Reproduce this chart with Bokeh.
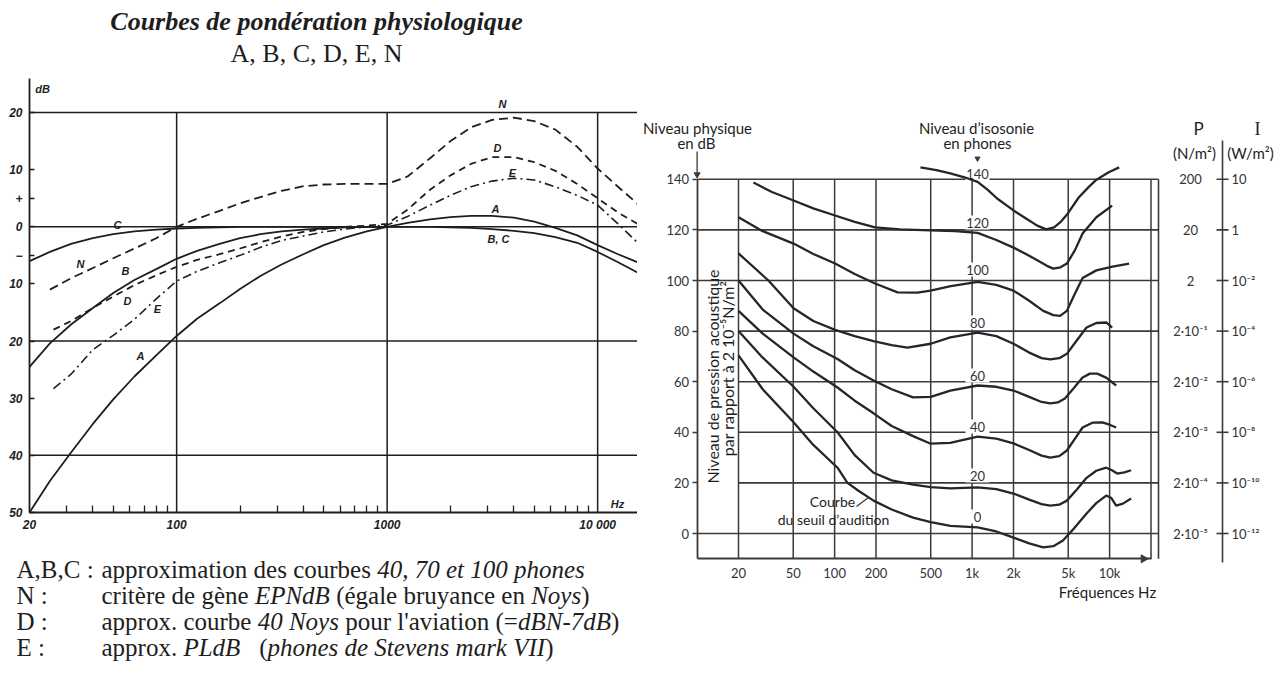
import numpy as np
from bokeh.plotting import figure
from bokeh.layouts import row
from bokeh.models import FixedTicker, Range1d
from bokeh.core.properties import value
from bokeh.embed import file_html
from bokeh.resources import INLINE

# ================= LEFT CHART DATA : weighting curves (Hz, dB) =================
freq_A = [20, 25, 31.5, 40, 50, 63, 80, 100, 125, 160, 200, 250, 315, 400, 500, 630, 800,
          1000, 1250, 1600, 2000, 2500, 3150, 4000, 5000, 6300, 8000, 10000, 12500, 15500]
curve_A = [-50, -44.5, -39.5, -34.5, -30.2, -26.2, -22.5, -19.1, -16.1, -13.4, -10.9, -8.6,
           -6.6, -4.8, -3.2, -1.9, -0.8, 0, 0.7, 1.3, 1.7, 1.9, 1.9, 1.6, 0.9, -0.2, -1.5,
           -3.2, -4.8, -6.2]
freq_B = [20, 25, 31.5, 40, 50, 63, 80, 100, 125, 160, 200, 250, 315, 400, 500, 630, 800,
          1000, 1250, 1600, 2000, 2500, 3150, 4000, 5000, 6300, 8000, 10000, 12500, 15500]
curve_B = [-24.5, -20.4, -17.1, -14.2, -11.6, -9.3, -7.4, -5.6, -4.2, -3.0, -2.0, -1.3, -0.8,
           -0.5, -0.3, -0.1, 0, 0, 0, 0, -0.1, -0.2, -0.4, -0.7, -1.1, -1.8, -2.8, -4.4, -6.2, -8.0]
freq_C = [20, 25, 31.5, 40, 50, 63, 80, 100, 125, 160, 200, 250, 315, 400, 500, 630, 800, 1000]
curve_C = [-6.0, -4.4, -3.0, -2.0, -1.3, -0.8, -0.5, -0.3, -0.2, -0.1, 0, 0, 0, 0, 0, 0, 0, 0]
freq_N = [25, 31.5, 40, 50, 63, 80, 100, 125, 160, 200, 250, 315, 400, 500, 630, 800, 1000,
          1250, 1600, 2000, 2500, 3150, 4000, 5000, 6300, 8000, 10000, 12500, 15500]
curve_N = [-11, -9, -7.2, -5.5, -3.8, -2, 0, 1.4, 2.8, 4.1, 5.2, 6.3, 7.1, 7.4, 7.5, 7.5, 7.5,
           8.8, 12, 15, 17.4, 18.7, 19.1, 18.5, 17, 14, 10.2, 7, 4]
freq_D = [26, 31.5, 40, 50, 63, 80, 100, 125, 160, 200, 250, 315, 400, 500, 630, 800, 1000,
          1250, 1600, 2000, 2500, 3150, 4000, 5000, 6300, 8000, 10000, 12500, 15500]
curve_D = [-18, -16.5, -14.2, -12.2, -10.2, -8.5, -7, -5.8, -4.8, -3.8, -2.7, -1.7, -0.9, -0.4,
           0, 0.2, 0.5, 3, 6.5, 9, 11, 12.2, 12.2, 11.3, 9.8, 7.5, 5, 2.5, 0.5]
freq_E = [26, 31.5, 40, 50, 63, 80, 100, 125, 160, 200, 250, 315, 400, 500, 630, 800, 1000,
          1250, 1600, 2000, 2500, 3150, 4000, 5000, 6300, 8000, 10000, 12500, 15500]
curve_E = [-28.3, -25.8, -21.5, -19, -16.2, -12.6, -9.5, -7.8, -6.3, -5, -3.6, -2.4, -1.6, -0.9,
           -0.4, 0, 0.3, 1.8, 3.8, 5.5, 7, 8, 8.5, 8.2, 7, 5.5, 3.8, 0.5, -2.8]

xticks_L = [20, 100, 1000, 10000]
xtick_labels_L = ["20", "100", "1000", "10 000"]
xminor_L = [30, 40, 50, 60, 70, 80, 90, 200, 300, 400, 500, 600, 700, 800, 900,
            2000, 3000, 4000, 5000, 6000, 7000, 8000, 9000]
yticks_L = [20, 10, 5, 0, -5, -10, -20, -30, -40, -50]
ytick_labels_L = ["20", "10", "+", "0", "\u2212", "10", "20", "30", "40", "50"]
hgrid_L = [20, 0, -20, -40]
vgrid_L = [100, 1000, 10000]

# ================= RIGHT CHART DATA : equal-loudness contours (Hz, dB) =================
phon_levels = [140, 120, 100, 80, 60, 40, 20, 0]
f_140 = [421, 550, 694, 880, 1097, 1300, 1520, 2000, 2500, 2977, 3460, 3950, 4450, 4970,
         5960, 7000, 7880, 9770, 11740]
L_140 = [144.7, 143.6, 142.3, 140.8, 139, 135.8, 132.4, 127.7, 124.3, 121.7, 120.2, 121,
         123.4, 126.5, 132.8, 136.8, 139.5, 142.7, 144.7]
f_120 = [25.7, 35, 50.3, 70, 100.8, 140, 197, 300, 498, 750, 1097, 1500, 2000, 2500, 2977,
         3500, 3890, 4400, 4890, 5600, 6360, 8010, 10440]
L_120 = [138.7, 135, 131.6, 128.5, 125.7, 123.2, 121, 120.2, 119.8, 119.5, 118.8, 116, 113,
         110.3, 108, 105.8, 104.7, 105.2, 106.7, 112, 118.6, 125, 129.6]
f_100 = [20, 30, 50.3, 70, 100.8, 140, 197, 287, 400, 498, 700, 1097, 1500, 2000, 2600, 3290,
         3900, 4360, 4890, 5500, 6360, 8010, 10500, 13860]
L_100 = [125, 119.5, 114.6, 110.5, 106.7, 102.6, 98.8, 95.3, 95.2, 96, 97.8, 99.5, 98.3, 96,
         92, 88, 86.3, 86, 88, 94, 101, 104, 105.5, 106.7]
f_80 = [20, 33, 50.3, 70, 100.8, 140, 192, 260, 339, 500, 694, 1097, 1500, 2000, 2600, 3200,
        3700, 4300, 4890, 5800, 6800, 8000, 9450, 10440]
L_80 = [110.7, 100, 89, 84, 80.5, 78, 76, 74.5, 73.5, 75, 77.5, 79.4, 78, 75, 71.5, 69.3,
        68.8, 69.3, 71, 76.5, 81.4, 83.2, 83.4, 81.4]
f_60 = [20, 30, 50.3, 70, 105, 140, 192, 260, 372, 500, 694, 1097, 1500, 2000, 2600, 3200,
        3700, 4200, 4730, 5500, 6360, 7200, 8140, 9500, 11160]
L_60 = [100, 88.5, 79, 74, 69, 64.5, 60.5, 57, 53.8, 54, 56.5, 58.5, 58, 56.5, 54, 52, 51.4,
        51.8, 53.4, 57.5, 61.7, 63.2, 63.2, 61.5, 58.5]
f_40 = [20, 30, 50.3, 70, 105, 140, 192, 260, 372, 500, 694, 1097, 1500, 2000, 2600, 3200,
        3700, 4300, 4890, 5600, 6360, 7500, 8840, 10000, 11160]
L_40 = [88, 79, 69.6, 64, 57.7, 52.5, 47.5, 42.5, 38.5, 35.5, 35.8, 38.3, 37.5, 35.6, 33,
        30.8, 30, 30.6, 32.8, 37.5, 41.9, 43.8, 43.9, 43, 41.9]
f_20 = [20, 30, 50.3, 70, 105, 140, 192, 260, 372, 500, 694, 1097, 1500, 2000, 2600, 3200,
        3700, 4300, 4890, 5800, 6800, 8000, 9450, 10400, 11350, 12800, 14330]
L_20 = [80, 69.5, 58, 49.5, 40, 31, 24, 21, 19.3, 18.3, 17.8, 18.2, 17.5, 15.8, 13.4, 11.6,
        11, 11.4, 13, 17.5, 22, 24.8, 26, 25, 23.7, 24.2, 25]
f_0 = [20, 30, 50.3, 70, 105, 124, 150, 192, 260, 372, 500, 694, 1097, 1500, 2000, 2600,
       3290, 3900, 4580, 5500, 6800, 8000, 9450, 10300, 11160, 12500, 14330]
L_0 = [70.4, 57, 44, 35, 26, 20, 16.8, 13, 9.5, 6.3, 4.5, 3, 2.4, 0.8, -1.6, -3.9, -5.5, -5,
       -2.8, 2, 7.9, 12, 15, 14, 11, 11.8, 13.8]

grid_freqs_R = [20, 50, 100, 200, 500, 1000, 2000, 5000, 10000, 20000]
xticks_R = [20, 50, 100, 200, 500, 1000, 2000, 5000, 10000]
xtick_labels_R = ["20", "50", "100", "200", "500", "1k", "2k", "5k", "10k"]
db_levels_R = [0, 20, 40, 60, 80, 100, 120, 140]
full_hlines_R = [140, 120, 100, 0]
part_hlines_R = [80, 60, 40, 20]
P_labels = ["2\u00b710\u207b\u2075", "2\u00b710\u207b\u2074", "2\u00b710\u207b\u00b3",
            "2\u00b710\u207b\u00b2", "2\u00b710\u207b\u00b9", "2", "20", "200"]
I_labels = ["10\u207b\u00b9\u00b2", "10\u207b\u00b9\u2070", "10\u207b\u2078", "10\u207b\u2076",
            "10\u207b\u2074", "10\u207b\u00b2", "1", "10"]

# ================= styling / layout =================
SERIF = "Liberation Serif"
SANS = "Lato"
INK = "#1e1e1e"
W_L, W_R, H = 637, 638, 662
F_END_L = 15500


def put(p, xs, ys, texts, font, size, style="normal", align="center",
        baseline="middle", angle=0.0, color=INK):
    p.text(x=list(xs), y=list(ys), text=list(texts), text_font=value(font),
           text_font_size=f"{size}px", text_font_style=style, text_align=align,
           text_baseline=baseline, angle=angle, text_color=color)


# ---------- left figure (picture geometry: 20 Hz at x=29, 210.5 px/decade; 0 dB at y=226.3, 5.714 px/dB)
def lx(px):
    return 10 ** (np.log10(20) + (px - 29) / 210.5)


def ly(py):
    return (226.3 - py) / 5.714


pL = figure(width=W_L, height=H, x_axis_type="log",
            x_range=Range1d(lx(0), lx(W_L)),
            y_range=Range1d(ly(H), ly(0)),
            toolbar_location=None, output_backend="svg", min_border=0)
pL.outline_line_color = None
pL.grid.visible = False
pL.background_fill_color = "white"

ax = pL.xaxis[0]
ax.fixed_location = -50
ax.bounds = (20, F_END_L)
ax.ticker = FixedTicker(ticks=xticks_L, minor_ticks=xminor_L)
ax.major_label_overrides = {t: s for t, s in zip(xticks_L, xtick_labels_L)}
ax.major_tick_in = 0
ax.major_tick_out = 0
ax.minor_tick_in = 7
ax.minor_tick_out = 0
ax.minor_tick_line_color = INK
ax.minor_tick_line_width = 1.3
ax.axis_line_color = INK
ax.axis_line_width = 1.8
ax.major_label_text_font = "Liberation Sans"
ax.major_label_text_font_style = "bold italic"
ax.major_label_text_font_size = "12px"
ax.major_label_text_color = INK
ax.major_label_standoff = 5

ay = pL.yaxis[0]
ay.fixed_location = 20
ay.bounds = (-50, 26)
ay.ticker = FixedTicker(ticks=yticks_L)
ay.major_label_overrides = {t: s for t, s in zip(yticks_L, ytick_labels_L)}
ay.major_tick_in = 5
ay.major_tick_out = 0
ay.major_tick_line_color = INK
ay.major_tick_line_width = 1.5
ay.minor_tick_in = 0
ay.minor_tick_out = 0
ay.axis_line_color = INK
ay.axis_line_width = 1.8
ay.major_label_text_font = "Liberation Sans"
ay.major_label_text_font_style = "bold italic"
ay.major_label_text_font_size = "12px"
ay.major_label_text_color = INK
ay.major_label_standoff = 7

pL.segment(x0=[20] * len(hgrid_L), y0=hgrid_L, x1=[F_END_L] * len(hgrid_L), y1=hgrid_L,
           line_color=INK, line_width=1.5)
pL.segment(x0=vgrid_L, y0=[-50] * len(vgrid_L), x1=vgrid_L, y1=[20] * len(vgrid_L),
           line_color=INK, line_width=1.5)

pL.line(freq_A, curve_A, line_color=INK, line_width=1.8)
pL.line(freq_B, curve_B, line_color=INK, line_width=1.8)
pL.line(freq_C, curve_C, line_color=INK, line_width=1.8)
pL.line(freq_N, curve_N, line_color=INK, line_width=1.8, line_dash="9 5")
pL.line(freq_D, curve_D, line_color=INK, line_width=1.8, line_dash="7 5")
pL.line(freq_E, curve_E, line_color=INK, line_width=1.6, line_dash="9 4 2 4")

lab_L = [("N", 502, 103), ("D", 497, 147), ("E", 512, 172), ("A", 495, 208), ("B, C", 498, 238),
         ("C", 117, 224), ("N", 80, 263), ("B", 125, 270), ("D", 127, 300), ("E", 157, 308),
         ("A", 140, 355), ("dB", 42, 88), ("Hz", 617, 503)]
put(pL, [lx(a[1]) for a in lab_L], [ly(a[2]) for a in lab_L], [a[0] for a in lab_L],
    "Liberation Sans", 11, "bold italic")

# title
put(pL, [lx(316)], [ly(21)], ["Courbes de pondération physiologique"], SERIF, 26, "bold italic")
put(pL, [lx(316)], [ly(53)], ["A, B, C, D, E, N"], SERIF, 26)

# legend text (Times metrics to chain roman / italic runs)
W_ROM = {' ': 250, '(': 333, ')': 333, ',': 250, '.': 250, ':': 278, '=': 564, "'": 180, '-': 333,
         'A': 722, 'B': 667, 'C': 667, 'D': 722, 'E': 611, 'N': 722,
         'a': 444, 'b': 500, 'c': 444, 'd': 500, 'e': 444, 'g': 500, 'i': 278, 'l': 278, 'm': 778,
         'n': 500, 'o': 500, 'p': 500, 'r': 333, 's': 389, 't': 278, 'u': 500, 'v': 500, 'x': 500,
         'y': 500, 'è': 444, 'é': 444}
W_ITA = {' ': 250, ',': 250, '-': 333, 'B': 611, 'D': 722, 'E': 611, 'I': 333, 'L': 556, 'N': 667,
         'P': 611, 'S': 500, 'V': 611, 'a': 500, 'd': 500, 'e': 444, 'h': 500, 'k': 444, 'm': 722,
         'n': 500, 'o': 500, 'p': 500, 'r': 389, 's': 389, 't': 278, 'v': 444, 'y': 444}
LEG_SIZE = 25
legend_rows = [
    ("A,B,C :", [("approximation des courbes ", 0), ("40, 70 et 100 phones", 1)]),
    ("N :", [("critère de gène ", 0), ("EPNdB", 1), (" (égale bruyance en ", 0), ("Noys", 1), (")", 0)]),
    ("D :", [("approx. courbe ", 0), ("40 Noys", 1), (" pour l'aviation (=", 0), ("dBN-7dB", 1), (")", 0)]),
    ("E :", [("approx. ", 0), ("PLdB", 1), ("   (", 0), ("phones de Stevens mark VII", 1), (")", 0)]),
]
legend_y = [569, 595, 621, 647]
rom = {"x": [], "y": [], "t": []}
ita = {"x": [], "y": [], "t": []}


def wid(s, it):
    tab = W_ITA if it else W_ROM
    return sum(tab.get(ch, 500) for ch in s) / 1000.0 * LEG_SIZE


for (key, segs), py in zip(legend_rows, legend_y):
    rom["x"].append(16); rom["y"].append(py); rom["t"].append(key)
    cur = 101.0
    for s, it in segs:
        lead = len(s) - len(s.lstrip())
        d = ita if it else rom
        d["x"].append(cur + wid(s[:lead], it)); d["y"].append(py); d["t"].append(s.strip())
        cur += wid(s, it)
put(pL, [lx(v) for v in rom["x"]], [ly(v) for v in rom["y"]], rom["t"], SERIF, LEG_SIZE, align="left")
put(pL, [lx(v) for v in ita["x"]], [ly(v) for v in ita["y"]], ita["t"], SERIF, LEG_SIZE, "italic", align="left")


# ---------- right figure (picture geometry: 20 Hz at x=738, 137.5 px/decade; 0 dB at y=533, 2.53 px/dB)
def rx(px):
    return 10 ** (np.log10(20) + (px - 738) / 137.5)


def ry(py):
    return (533 - py) / 2.53


F_BOX = rx(1158)
pR = figure(width=W_R, height=H, x_axis_type="log",
            x_range=Range1d(rx(W_L), rx(W_L + W_R)),
            y_range=Range1d(ry(H), ry(0)),
            toolbar_location=None, output_backend="svg", min_border=0)
pR.outline_line_color = None
pR.grid.visible = False
GRID = "#3a3a3a"

bx = pR.xaxis[0]
bx.fixed_location = -10
bx.bounds = (10, 20000)
bx.ticker = FixedTicker(ticks=xticks_R)
bx.major_label_overrides = {t: s for t, s in zip(xticks_R, xtick_labels_R)}
bx.major_tick_in = 0
bx.major_tick_out = 0
bx.minor_tick_in = 0
bx.minor_tick_out = 0
bx.axis_line_color = GRID
bx.axis_line_width = 1.8
bx.major_label_text_font = SANS
bx.major_label_text_font_size = "13px"
bx.major_label_text_color = "#333333"
bx.major_label_standoff = 6

by = pR.yaxis[0]
by.fixed_location = 10
by.bounds = (-10, 140)
by.ticker = FixedTicker(ticks=db_levels_R)
by.major_tick_in = 0
by.major_tick_out = 5
by.major_tick_line_color = GRID
by.major_tick_line_width = 1.5
by.minor_tick_in = 0
by.minor_tick_out = 0
by.axis_line_color = GRID
by.axis_line_width = 1.8
by.major_label_text_font = SANS
by.major_label_text_font_size = "13px"
by.major_label_text_color = "#333333"
by.major_label_standoff = 3

# grid / box
pR.segment(x0=grid_freqs_R, y0=[-10] * len(grid_freqs_R), x1=grid_freqs_R,
           y1=[140] * len(grid_freqs_R), line_color=GRID, line_width=1.5)
pR.segment(x0=[10] * len(full_hlines_R), y0=full_hlines_R, x1=[F_BOX] * len(full_hlines_R),
           y1=full_hlines_R, line_color=GRID, line_width=1.6)
pR.segment(x0=[20] * len(part_hlines_R), y0=part_hlines_R, x1=[F_BOX] * len(part_hlines_R),
           y1=part_hlines_R, line_color=GRID, line_width=1.6)
pR.segment(x0=[F_BOX], y0=[-10], x1=[F_BOX], y1=[140], line_color=GRID, line_width=1.6)
pR.scatter(x=[rx(1143)], y=[-10], marker="triangle", size=8, angle=-np.pi / 2,
           fill_color=GRID, line_color=GRID)

# white patches behind the phone labels on the 1 kHz line
label_py = [173, 222, 269, 322, 375, 426, 475, 516]
pR.rect(x=[rx(977)] * len(label_py), y=[ry(v) for v in label_py], width=24, height=14,
        width_units="screen", height_units="screen", fill_color="white", line_color=None)

# contours
for fx, Ly in [(f_140, L_140), (f_120, L_120), (f_100, L_100), (f_80, L_80), (f_60, L_60),
               (f_40, L_40), (f_20, L_20), (f_0, L_0)]:
    pR.line(fx, Ly, line_color="#262626", line_width=2.3)

put(pR, [rx(977)] * len(label_py), [ry(v) for v in label_py], [str(v) for v in phon_levels],
    SANS, 13, color="#333333")

# header texts
put(pR, [rx(697), rx(696)], [ry(127), ry(142)], ["Niveau physique", "en dB"], SANS, 15)
put(pR, [rx(976), rx(977)], [ry(127), ry(142)], ["Niveau d\u2019isosonie", "en phones"], SANS, 15)
pR.segment(x0=[10], y0=[ry(151)], x1=[10], y1=[ry(172)], line_color=GRID, line_width=1.3)
pR.scatter(x=[10], y=[ry(174)], marker="inverted_triangle", size=6, fill_color=GRID, line_color=GRID)
pR.scatter(x=[rx(977)], y=[ry(158)], marker="inverted_triangle", size=5, fill_color=GRID, line_color=GRID)

# rotated y title
put(pR, [rx(712)], [ry(376)], ["Niveau de pression acoustique"], SANS, 16, angle=np.pi / 2)
put(pR, [rx(727)], [ry(368)], ["par rapport \u00e0 2 10\u207b\u2075N/m\u00b2"], SANS, 16, angle=np.pi / 2)

# threshold note
put(pR, [rx(832), rx(833)], [ry(501), ry(519)], ["Courbe", "du seuil d\u2019audition"], SANS, 14)
pR.segment(x0=[rx(856)], y0=[ry(506)], x1=[rx(868)], y1=[ry(497)], line_color=GRID, line_width=1.3)

put(pR, [rx(1107)], [ry(591)], ["Fréquences Hz"], SANS, 15)

# P / I scales
F_ILINE = rx(1222)
pR.segment(x0=[F_ILINE], y0=[ry(140)], x1=[F_ILINE], y1=[ry(562)], line_color=GRID, line_width=1.6)
pR.segment(x0=[rx(1216)] * len(db_levels_R), y0=db_levels_R, x1=[rx(1228)] * len(db_levels_R),
           y1=db_levels_R, line_color=GRID, line_width=1.6)
put(pR, [rx(1190)] * len(db_levels_R), db_levels_R, P_labels, SANS, 13, color="#333333")
put(pR, [rx(1231)] * len(db_levels_R), db_levels_R, I_labels, SANS, 13, align="left", color="#333333")
put(pR, [rx(1198)], [ry(128)], ["P"], SANS, 17)
put(pR, [rx(1257)], [ry(128)], ["I"], SERIF, 18)
put(pR, [rx(1194), rx(1250)], [ry(152), ry(152)], ["(N/m\u00b2)", "(W/m\u00b2)"], SANS, 15)

layout = row(pL, pR, spacing=0)
with open("out.html", "w", encoding="utf-8") as fh:
    fh.write(file_html(layout, INLINE, title="Courbes de pondération physiologique"))
